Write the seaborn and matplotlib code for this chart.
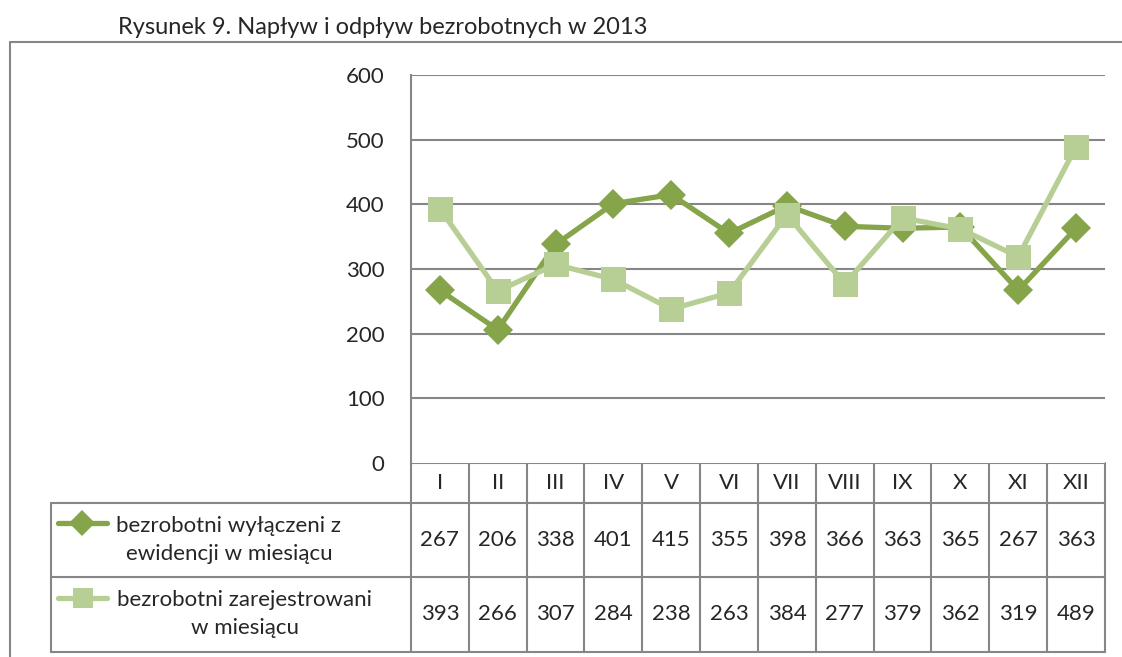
import pandas as pd
import matplotlib.pyplot as plt
import seaborn as sns

sns.set_style('white')
plt.rcParams['font.family'] = ['Lato', 'DejaVu Sans']

# Data
months = ['I', 'II', 'III', 'IV', 'V', 'VI', 'VII', 'VIII', 'IX', 'X', 'XI', 'XII']
wylaczeni = [267, 206, 338, 401, 415, 355, 398, 366, 363, 365, 267, 363]
zarejestrowani = [393, 266, 307, 284, 238, 263, 384, 277, 379, 362, 319, 489]
label_wyl = 'bezrobotni wyłączeni z\newidencji w miesiącu'
label_zar = 'bezrobotni zarejestrowani\nw miesiącu'
title = 'Rysunek 9. Napływ i odpływ bezrobotnych w 2013'
y_ticks = [0, 100, 200, 300, 400, 500, 600]

dark = '#86A44A'
light = '#B7CE95'
grid = '#868686'
fs = 16

W, H = 1122, 657
fig = plt.figure(figsize=(W / 100, H / 100), dpi=100)

# plot area in pixels
px_left, px_right, px_top, px_bottom = 411, 1105, 75, 463
ax = fig.add_axes([px_left / W, 1 - px_bottom / H,
                   (px_right - px_left) / W, (px_bottom - px_top) / H])

df = pd.DataFrame({'month': months, 'wyl': wylaczeni, 'zar': zarejestrowani})
df['pos'] = range(len(months))

sns.lineplot(data=df, x='pos', y='wyl', color=dark, lw=3.8, marker='D',
             markersize=15, markeredgewidth=0, ax=ax, zorder=3)
sns.lineplot(data=df, x='pos', y='zar', color=light, lw=3.8, marker='s',
             markersize=18, markeredgewidth=0, ax=ax, zorder=4)

ax.set_xlim(-0.5, len(months) - 0.5)
ax.set_ylim(0, 600)
ax.set_yticks(y_ticks)
ax.set_yticklabels([str(t) for t in y_ticks], fontsize=fs)
ax.tick_params(axis='y', length=0, pad=19)
ax.set_xticks([])
ax.set_xlabel('')
ax.set_ylabel('')
for t in y_ticks[1:]:
    ax.axhline(t, color=grid, lw=1.5, zorder=1)
for s in ['top', 'right', 'bottom']:
    ax.spines[s].set_visible(False)
ax.spines['left'].set_color(grid)
ax.spines['left'].set_linewidth(1.5)

# overlay in pixel coordinates for the frame and data table
ov = fig.add_axes([0, 0, 1, 1], zorder=-1)
ov.set_xlim(0, W)
ov.set_ylim(H, 0)
ov.axis('off')
ov.patch.set_alpha(0)

lc = dict(color=grid, lw=1.5)
# outer frame
ov.plot([10, 10], [42, H], **lc)
ov.plot([10, W], [42, 42], **lc)

fig.text(118 / W, 1 - 27 / H, title, fontsize=17, va='center', ha='left')

# table
tab_left, row0, row1, row2, row3 = 51, 463, 503, 577, 652
col_w = (px_right - px_left) / len(months)
ov.plot([px_left, px_right], [row0, row0], **lc)
for y in [row1, row2, row3]:
    ov.plot([tab_left, px_right], [y, y], **lc)
ov.plot([tab_left, tab_left], [row1, row3], **lc)
for i in range(len(months) + 1):
    x = px_left + i * col_w
    ov.plot([x, x], [row0, row3], **lc)

for i, m in enumerate(months):
    cx = px_left + (i + 0.5) * col_w
    ov.text(cx, (row0 + row1) / 2, m, fontsize=fs, ha='center', va='center')
    ov.text(cx, (row1 + row2) / 2, str(wylaczeni[i]), fontsize=fs, ha='center', va='center')
    ov.text(cx, (row2 + row3) / 2, str(zarejestrowani[i]), fontsize=fs, ha='center', va='center')

# legend keys in table
ov.plot([58, 107], [523, 523], color=dark, lw=3.8, solid_capstyle='round')
ov.plot([82], [523], marker='D', color=dark, markersize=13, markeredgewidth=0)
ov.plot([58, 107], [598, 598], color=light, lw=3.8, solid_capstyle='round')
ov.plot([83], [598], marker='s', color=light, markersize=14, markeredgewidth=0)
ov.text(229, (row1 + row2) / 2, label_wyl, fontsize=fs, ha='center', va='center',
        multialignment='center', linespacing=1.5)
ov.text(245, (row2 + row3) / 2, label_zar, fontsize=fs, ha='center', va='center',
        multialignment='center', linespacing=1.5)

fig.savefig('out.png', dpi=100)
